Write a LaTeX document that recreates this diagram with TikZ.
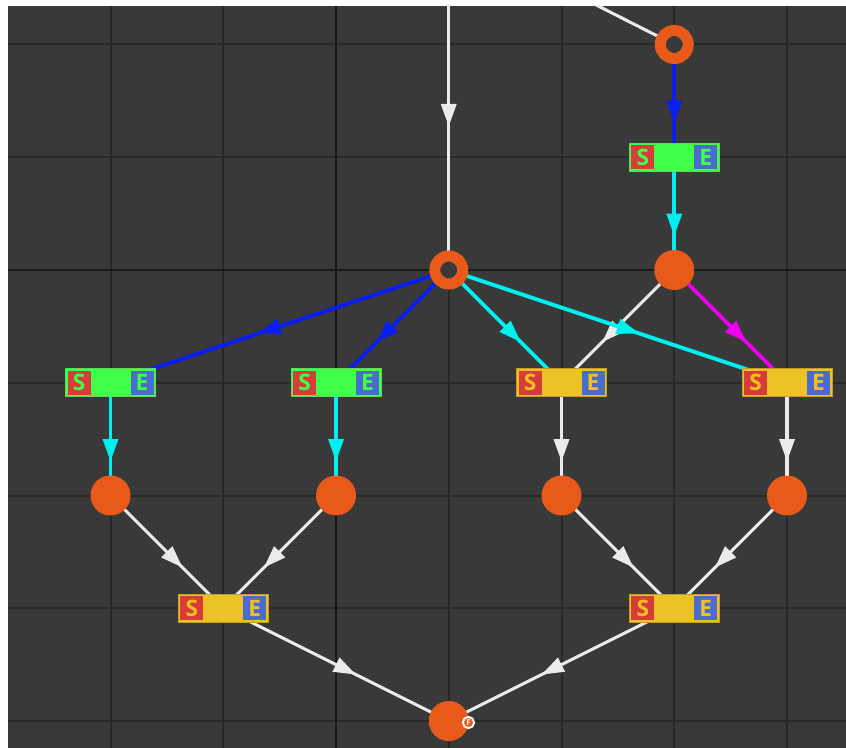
\documentclass[tikz,border=0pt]{standalone}
\usepackage{fontspec}
\newfontfamily\sefont{Open Sans}
\usetikzlibrary{decorations.markings}
\pgfdeclarelayer{bglayer}
\pgfdeclarelayer{edgelayer}
\pgfsetlayers{bglayer,edgelayer,main}
\definecolor{bgc}{HTML}{393939}
\definecolor{gridc}{HTML}{282828}
\definecolor{axisc}{HTML}{181818}
\definecolor{nodeorange}{HTML}{E85A19}
\definecolor{eblue}{HTML}{0A1EF0}
\definecolor{ecyan}{HTML}{00F0F0}
\definecolor{emag}{HTML}{EE00EE}
\definecolor{ewhite}{HTML}{EBEBEB}
\definecolor{greenbox}{HTML}{40FF48}
\definecolor{greenline}{HTML}{62D862}
\definecolor{greentxt}{HTML}{40FF48}
\definecolor{yellowbox}{HTML}{EBC326}
\definecolor{yellowline}{HTML}{C99A2A}
\definecolor{yellowtxt}{HTML}{F0C020}
\definecolor{sred}{HTML}{D63D3A}
\definecolor{eblu}{HTML}{4A6BD0}
\tikzset{
  conn/.style={draw=#1, line width=2.9pt, postaction={decorate},
    decoration={markings, mark=at position 0.5 with {\fill[#1] (0,-6pt) -- (16.5pt,0) -- (0,6pt) -- cycle;}}},
  wconn/.style={conn=ewhite, line width=2.3pt},
  ring/.style={circle, draw=nodeorange, fill=bgc, line width=8.25pt, minimum size=21pt, inner sep=0pt},
  dot/.style={circle, fill=nodeorange, minimum size=30pt, inner sep=0pt},
  sebox/.style={fill=#1box, draw=#1line, line width=0.75pt, minimum width=67.5pt, minimum height=21pt, inner sep=0pt},
  sqr/.style={minimum width=17.25pt, minimum height=18pt, inner sep=0pt, font=\sefont\bfseries\fontsize{17}{17}\selectfont},
  gridline/.style={draw=gridc, line width=1.5pt},
  axisline/.style={draw=axisc, line width=2pt},
  badge/.style={circle, fill=nodeorange, draw=white, line width=1.4pt, minimum size=8.5pt, inner sep=0pt, text=white, font=\sefont\bfseries\fontsize{6}{6}\selectfont}
}
\newcommand\mysebox[4]{%
  \node[sebox=#4] (#1) at (#2,#3) {};
  \node[sqr, fill=sred, text=#4txt] (#1-s) at ([xshift=-23.625pt]#1.center) {S};
  \node[sqr, fill=eblu, text=#4txt] (#1-e) at ([xshift=23.625pt]#1.center) {E};
}
\begin{document}
\begin{tikzpicture}[x=0.75pt,y=-0.75pt]
\useasboundingbox (0,0) rectangle (846,748);
\begin{pgfonlayer}{bglayer}
  \fill[white] (0,0) rectangle (846,748);
  \fill[bgc] (8,6) rectangle (846,748);
  \foreach \gx in {110.5,223.25,448.75,561.5,674.25,787}
    \draw[gridline] (\gx,6) -- (\gx,748);
  \foreach \gy in {44.5,157.25,382.75,495.5,608.25,721}
    \draw[gridline] (8,\gy) -- (846,\gy);
  \draw[axisline] (336,6) -- (336,748);
  \draw[axisline] (8,270) -- (846,270);
\end{pgfonlayer}

% nodes
\node[ring] (r1) at (448.75,270) {};
\node[ring] (r2) at (674.25,44.5) {};
\node[dot] (c0) at (674.25,270) {};
\node[dot] (c1) at (110.5,495.5) {};
\node[dot] (c2) at (336,495.5) {};
\node[dot] (c3) at (561.5,495.5) {};
\node[dot] (c4) at (787,495.5) {};
\node[dot] (cb) at (448.75,721) {};
\node[badge] (fb) at (468.5,722.5) {F};
\mysebox{b0}{674.25}{157.25}{green}
\mysebox{b1}{110.5}{382.75}{green}
\mysebox{b2}{336}{382.75}{green}
\mysebox{b3}{561.5}{382.75}{yellow}
\mysebox{b4}{787}{382.75}{yellow}
\mysebox{b5}{223.25}{608.25}{yellow}
\mysebox{b6}{674.25}{608.25}{yellow}
\coordinate (top) at (448.75,-62);
\coordinate (topr) at (446,-71);

\begin{pgfonlayer}{edgelayer}
\begin{scope}
  \clip (8,6) rectangle (846,748);
  \draw[wconn] (top) -- (r1.center);
  \draw[wconn] (topr) -- (r2.center);
  \draw[conn=eblue] (r2.center) -- (b0.center);
  \draw[conn=ecyan] (b0.center) -- (c0.center);
  \draw[conn=eblue] (r1.center) -- (b1.center);
  \draw[conn=eblue] (r1.center) -- (b2.center);
  \draw[conn=ecyan] (r1.center) -- (b3.center);
  \draw[wconn] (c0.center) -- (b3.center);
  \draw[conn=ecyan] (r1.center) -- (b4.center);
  \draw[conn=emag] (c0.center) -- (b4.center);
  \draw[conn=ecyan] (b1.center) -- (c1.center);
  \draw[conn=ecyan] (b2.center) -- (c2.center);
  \draw[wconn] (b3.center) -- (c3.center);
  \draw[wconn] (b4.center) -- (c4.center);
  \draw[wconn] (c1.center) -- (b5.center);
  \draw[wconn] (c2.center) -- (b5.center);
  \draw[wconn] (c3.center) -- (b6.center);
  \draw[wconn] (c4.center) -- (b6.center);
  \draw[wconn] (b5.center) -- (cb.center);
  \draw[wconn] (b6.center) -- (cb.center);
\end{scope}
\end{pgfonlayer}
\end{tikzpicture}
\end{document}
